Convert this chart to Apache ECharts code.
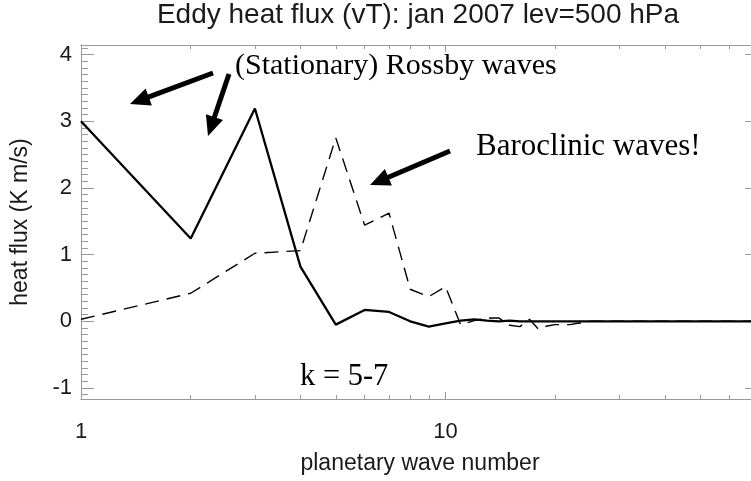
<!DOCTYPE html>
<html><head><meta charset="utf-8">
<script src="https://cdn.jsdelivr.net/npm/echarts@6/dist/echarts.min.js"></script>
<style>html,body{margin:0;padding:0;background:#fff}#c{width:751px;height:481px}</style>
</head><body><div id="c"></div>
<script>
const waveNumbers = [1,2,3,4,5,6,7,8,9,10,11,12,13,14,15,16,17,18,19,20,21,22,23,24,25,26,27,28,29,30,
  31,32,33,34,35,36,37,38,39,40,41,42,43,44,45,46,47,48,49,50,51,52,53,54,55,56,57,58,59,60,
  61,62,63,64,65,66,67,68,69,70,71,72];
// solid line
const stationaryFlux = [3.00,1.24,3.19,0.82,-0.05,0.17,0.14,0.00,-0.08,-0.03,
  0.01,0.03,0.01,0.00,0.01,0.00,0.00,0.00,0.00,0.00,
  0.00,0.00,0.00,0.00,0.00,0.00,0.00,0.00,0.00,0.00,
  0.00,0.00,0.00,0.00,0.00,0.00,0.00,0.00,0.00,0.00,
  0.00,0.00,0.00,0.00,0.00,0.00,0.00,0.00,0.00,0.00,
  0.00,0.00,0.00,0.00,0.00,0.00,0.00,0.00,0.00,0.00,
  0.00,0.00,0.00,0.00,0.00,0.00,0.00,0.00,0.00,0.00,0.00,0.00];
// dashed line
const transientFlux = [0.03,0.42,1.02,1.06,2.75,1.44,1.62,0.48,0.37,0.52,
  -0.05,0.01,0.05,0.05,-0.06,-0.08,0.03,-0.12,-0.07,-0.05,
  -0.05,-0.05,-0.03,-0.02,0.00,0.00,0.00,0.00,0.00,0.00,
  0.00,0.00,0.00,0.00,0.00,0.00,0.00,0.00,0.00,0.00,
  0.00,0.00,0.00,0.00,0.00,0.00,0.00,0.00,0.00,0.00,
  0.00,0.00,0.00,0.00,0.00,0.00,0.00,0.00,0.00,0.00,
  0.00,0.00,0.00,0.00,0.00,0.00,0.00,0.00,0.00,0.00,0.00,0.00];
const xMajorTicks = [1, 10];
const xMinorTicks = [2,3,4,5,6,7,8,9,20,30,40,50,60,70];
const yMajorTicks = [-1, 0, 1, 2, 3, 4];
const titleText = 'Eddy heat flux (vT): jan 2007 lev=500 hPa';
const xName = 'planetary wave number';
const yName = 'heat flux (K m/s)';
const notes = ['(Stationary) Rossby waves', 'Baroclinic waves!', 'k = 5-7'];

const yMinorTicks = [];
for (let i = -11; i <= 41; i++) { if (i % 10 !== 0) yMinorTicks.push(i / 10); }

const AX = '#9a9a9a', TXT = '#1a1a1a';
const SANS = '"Liberation Sans", Arial, Helvetica, sans-serif';
const SERIF = '"Liberation Serif", "Times New Roman", serif';
const X_MIN = 1, X_MAX = 72, Y_MIN = -1.165, Y_MAX = 4.142;

function xAx(pos, ticks, len, labels) {
  return {
    type: 'log', logBase: 10, gridIndex: 0, position: pos, min: X_MIN, max: X_MAX,
    axisLine: {show: true, onZero: false, lineStyle: {color: AX, width: 1}},
    axisTick: {show: true, inside: true, length: len, customValues: ticks, lineStyle: {color: AX, width: 1}},
    axisLabel: labels ? {show: true, customValues: labels, margin: 22, fontSize: 22, lineHeight: 22,
      color: TXT, fontFamily: SANS} : {show: false},
    splitLine: {show: false}, minorTick: {show: false}, minorSplitLine: {show: false}
  };
}
function yAx(pos, ticks, len, labels) {
  return {
    type: 'value', gridIndex: 0, position: pos, min: Y_MIN, max: Y_MAX,
    axisLine: {show: true, onZero: false, lineStyle: {color: AX, width: 1}},
    axisTick: {show: true, inside: true, length: len, customValues: ticks, lineStyle: {color: AX, width: 1}},
    axisLabel: labels ? {show: true, customValues: labels, margin: 9, fontSize: 22, lineHeight: 22,
      color: TXT, fontFamily: SANS} : {show: false},
    splitLine: {show: false}, minorTick: {show: false}, minorSplitLine: {show: false}
  };
}

function arrow(tail, tip, w, headLen, headW) {
  const dx = tip[0] - tail[0], dy = tip[1] - tail[1];
  const L = Math.sqrt(dx * dx + dy * dy), ux = dx / L, uy = dy / L, px = -uy, py = ux;
  const bx = tip[0] - ux * headLen, by = tip[1] - uy * headLen;
  return [
    {type: 'line', shape: {x1: tail[0], y1: tail[1], x2: bx + ux * 2, y2: by + uy * 2},
      style: {stroke: '#000', lineWidth: w}, z: 100},
    {type: 'polygon', shape: {points: [[tip[0], tip[1]], [bx + px * headW / 2, by + py * headW / 2],
      [bx - px * headW / 2, by - py * headW / 2]]}, style: {fill: '#000'}, z: 100}
  ];
}

const chart = echarts.init(document.getElementById('c'), null, {renderer: 'canvas', width: 751, height: 481});
chart.setOption({
  animation: false,
  backgroundColor: '#fff',
  grid: {left: 81, width: 677, top: 45, height: 354, containLabel: false, outerBoundsMode: 'none'},
  xAxis: [
    xAx('bottom', xMajorTicks, 7, xMajorTicks),
    xAx('bottom', xMinorTicks, 4, null),
    xAx('top', xMajorTicks, 7, null),
    xAx('top', xMinorTicks, 4, null)
  ],
  yAxis: [
    yAx('left', yMinorTicks, 7, yMajorTicks),
    yAx('left', yMajorTicks, 13, null),
    yAx('right', yMajorTicks, 13, null),
    yAx('right', yMinorTicks, 7, null)
  ],
  series: [
    {name: 'stationary', type: 'line', xAxisIndex: 0, yAxisIndex: 0, symbol: 'none', clip: true,
      data: waveNumbers.map((k, i) => [k, stationaryFlux[i]]),
      lineStyle: {color: '#000', width: 2.3, type: 'solid'}, z: 3},
    {name: 'transient', type: 'line', xAxisIndex: 0, yAxisIndex: 0, symbol: 'none', clip: true,
      data: waveNumbers.map((k, i) => [k, transientFlux[i]]),
      lineStyle: {color: '#000', width: 1.4, type: [14, 8]}, z: 2}
  ],
  graphic: [
    {type: 'text', x: 418, y: 15.5, z: 100, style: {text: titleText, font: '28px ' + SANS, fill: TXT,
      textAlign: 'center', textVerticalAlign: 'middle'}},
    {type: 'text', x: 420, y: 464, z: 100, style: {text: xName, font: '23px ' + SANS, fill: TXT,
      textAlign: 'center', textVerticalAlign: 'middle'}},
    {type: 'text', x: 21, y: 222, rotation: Math.PI / 2, z: 100, style: {text: yName, font: '23px ' + SANS, fill: TXT,
      textAlign: 'center', textVerticalAlign: 'middle'}},
    {type: 'text', x: 235, y: 66.6, z: 100, style: {text: notes[0], font: '30px ' + SERIF, fill: '#000',
      textAlign: 'left', textVerticalAlign: 'middle'}},
    {type: 'text', x: 476, y: 147, z: 100, style: {text: notes[1], font: '31px ' + SERIF, fill: '#000',
      textAlign: 'left', textVerticalAlign: 'middle'}},
    {type: 'text', x: 300, y: 376.6, z: 100, style: {text: notes[2], font: '30.5px ' + SERIF, fill: '#000',
      textAlign: 'left', textVerticalAlign: 'middle'}}
  ].concat(arrow([213, 73], [130, 104], 5, 20, 18))
   .concat(arrow([229, 74], [208, 136], 5, 20, 18))
   .concat(arrow([450, 151], [370, 185], 5, 20, 18))
});
</script>
</body></html>
